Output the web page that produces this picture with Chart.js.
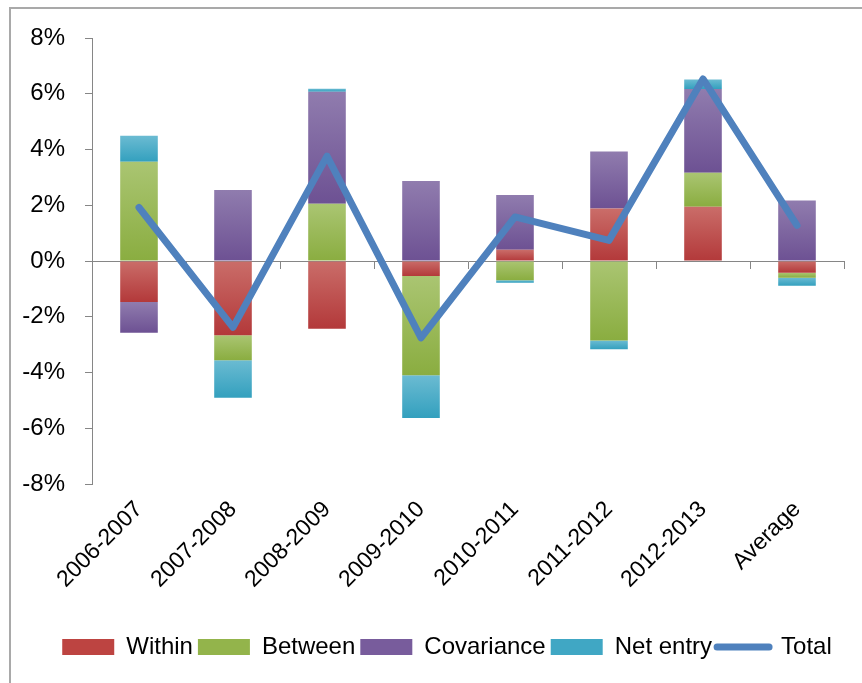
<!DOCTYPE html>
<html>
<head>
<meta charset="utf-8">
<script src="https://cdn.jsdelivr.net/npm/chart.js@4.4.1/dist/chart.umd.min.js"></script>
<style>
    body { margin: 0; background: #fff; }
    .wrap { position: relative; width: 862px; height: 683px; overflow: hidden; }
    .frame {
        position: absolute; left: 9px; top: 7px; width: 900px; height: 700px;
        border-left: 2px solid #a9a9a9; border-top: 2px solid #a9a9a9;
    }
    canvas { position: absolute; left: 0; top: 0; }
</style>
</head>
<body>
<div class="wrap">
    <div class="frame"></div>
    <canvas id="myChart" width="862" height="683"></canvas>
</div>
<script>
// du lieu doc tu hinh (don vi: %)
const categories = ["2006-2007", "2007-2008", "2008-2009", "2009-2010", "2010-2011", "2011-2012", "2012-2013", "Average"];
const within = [-1.47, -2.66, -2.43, -0.54, 0.40, 1.88, 1.95, -0.42];
const between = [3.56, -0.90, 2.05, -3.56, -0.69, -2.85, 1.22, -0.18];
const covariance = [-1.10, 2.55, 4.02, 2.87, 1.97, 2.05, 3.00, 2.17];
const netEntry = [0.93, -1.35, 0.11, -1.53, -0.09, -0.32, 0.34, -0.29];
const total = [1.92, -2.38, 3.76, -2.76, 1.58, 0.74, 6.53, 1.28];
const yTicks = [-8, -6, -4, -2, 0, 2, 4, 6, 8];

const stackSeries = [within, between, covariance, netEntry];

Chart.defaults.font.family = '"Liberation Sans", Arial, sans-serif';
Chart.defaults.font.size = 24;
Chart.defaults.color = "#000";

// gradient cho tung doan cot (sang o tren, dam o duoi)
function segGradient(c, light, dark) {
    const chart = c.chart;
    const y = chart.scales.y;
    if (c.type !== "data" || !y) return dark;
    const d = c.datasetIndex;
    const i = c.dataIndex;
    const v = stackSeries[d][i];
    let base = 0;
    for (let k = 0; k < d; k++) {
        const o = stackSeries[k][i];
        if (Math.sign(o) === Math.sign(v)) base += o;
    }
    const y1 = y.getPixelForValue(Math.max(base, base + v));
    const y2 = y.getPixelForValue(Math.min(base, base + v));
    if (!isFinite(y1) || !isFinite(y2) || y1 === y2) return dark;
    const g = chart.ctx.createLinearGradient(0, y1, 0, y2);
    g.addColorStop(0, light);
    g.addColorStop(1, dark);
    return g;
}

const legendColors = ["#BD4441", "#93B44B", "#785C9C", "#40A7C4"];

// day legend sang phai cho giong hinh goc
const legendShift = {
    id: "legendShift",
    afterLayout(chart) {
        chart.legend.left += 25;
        chart.legend.right += 25;
    },
};

const ctx = document.getElementById("myChart").getContext("2d");
const myChart = new Chart(ctx, {
    type: "bar",
    data: {
        labels: categories,
        datasets: [
            {
                label: "Within",
                data: within,
                backgroundColor: (c) => segGradient(c, "#CA6D69", "#B3393A"),
                order: 1,
            },
            {
                label: "Between",
                data: between,
                backgroundColor: (c) => segGradient(c, "#AAC572", "#8AAD40"),
                order: 1,
            },
            {
                label: "Covariance",
                data: covariance,
                backgroundColor: (c) => segGradient(c, "#907CAE", "#6D5193"),
                order: 1,
            },
            {
                label: "Net entry",
                data: netEntry,
                backgroundColor: (c) => segGradient(c, "#6BBBD2", "#33A0BE"),
                order: 1,
            },
            {
                type: "line",
                label: "Total",
                data: total,
                borderColor: "#4F81BD",
                backgroundColor: "#4F81BD",
                borderWidth: 7,
                pointRadius: 0,
                pointHoverRadius: 0,
                tension: 0,
                borderJoinStyle: "round",
                borderCapStyle: "round",
                order: 0,
            },
        ],
    },
    plugins: [legendShift],
    options: {
        responsive: false,
        animation: false,
        devicePixelRatio: 1,
        datasets: {
            bar: {
                categoryPercentage: 1,
                barPercentage: 0.4,
            },
        },
        layout: {
            padding: { left: 0, right: 18, top: 38, bottom: 14 },
        },
        scales: {
            x: {
                stacked: true,
                grid: { display: false },
                border: { display: false },
                ticks: {
                    minRotation: 45,
                    maxRotation: 45,
                    padding: 4,
                    autoSkip: false,
                    font: { size: 23 },
                },
                afterFit: (scale) => {
                    scale.height = 146;
                },
            },
            x2: {
                type: "category",
                axis: "x",
                position: { y: 0 },
                offset: true,
                grid: {
                    offset: true,
                    drawOnChartArea: false,
                    drawTicks: true,
                    tickLength: 7,
                    color: "#868686",
                },
                border: { display: true, color: "#868686", width: 1 },
                ticks: { display: false },
            },
            y: {
                stacked: true,
                min: -8,
                max: 8,
                afterBuildTicks: (scale) => {
                    scale.ticks = yTicks.map((v) => ({ value: v }));
                },
                afterFit: (scale) => {
                    scale.width = 92;
                },
                ticks: {
                    padding: 20,
                    font: { size: 24 },
                    callback: (val) => val + "%",
                },
                grid: {
                    drawOnChartArea: false,
                    drawTicks: true,
                    tickLength: 7,
                    color: "#868686",
                },
                border: { display: true, color: "#868686", width: 1 },
            },
        },
        plugins: {
            tooltip: { enabled: false },
            legend: {
                position: "bottom",
                labels: {
                    usePointStyle: true,
                    pointStyleWidth: 52,
                    boxHeight: 16,
                    padding: 5,
                    font: { size: 24 },
                    generateLabels: (chart) =>
                        chart.data.datasets.map((ds, i) => {
                            const isLine = ds.type === "line";
                            return {
                                text: ds.label,
                                datasetIndex: i,
                                fillStyle: isLine ? "#4F81BD" : legendColors[i],
                                strokeStyle: isLine ? "#4F81BD" : legendColors[i],
                                lineWidth: isLine ? 7 : 0,
                                lineCap: "round",
                                pointStyle: isLine ? "line" : "rect",
                                hidden: false,
                                fontColor: "#000",
                            };
                        }),
                },
            },
        },
    },
});
</script>
</body>
</html>
